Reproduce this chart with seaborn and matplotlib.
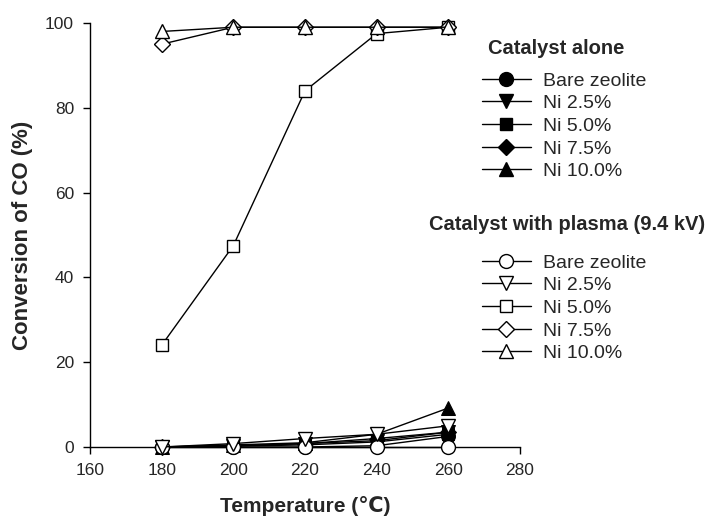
import matplotlib
matplotlib.use("Agg")
import matplotlib.pyplot as plt
import seaborn as sns
import pandas as pd
from matplotlib.lines import Line2D

sns.set_theme(style="ticks")
plt.rcParams['font.family'] = ['Liberation Sans', 'DejaVu Sans']

temps = [180, 200, 220, 240, 260]
labels = ["Bare zeolite", "Ni 2.5%", "Ni 5.0%", "Ni 7.5%", "Ni 10.0%"]
markers = ["o", "v", "s", "D", "^"]

alone_bare = [0, 0, 0, 0.3, 2.5]
alone_ni25 = [0, 0.3, 0.8, 1.5, 3.5]
alone_ni50 = [0, 0.2, 0.5, 1.2, 3.0]
alone_ni75 = [0, 0.3, 0.8, 2.0, 3.5]
alone_ni100 = [0, 0.5, 1.0, 3.0, 9.2]

plasma_bare = [0, 0, 0, 0, 0]
plasma_ni25 = [0, 0.8, 2.0, 3.0, 5.0]
plasma_ni50 = [24, 47.5, 84, 97.5, 99]
plasma_ni75 = [95, 99, 99, 99, 99]
plasma_ni100 = [98, 99, 99, 99, 99]

alone = [alone_bare, alone_ni25, alone_ni50, alone_ni75, alone_ni100]
plasma = [plasma_bare, plasma_ni25, plasma_ni50, plasma_ni75, plasma_ni100]

fig = plt.figure(figsize=(7.11, 5.22), dpi=100)
ax = fig.add_axes([90/711, 1 - 447/522, (520-90)/711, (447-23)/522])

msize = {"o": 10, "v": 10, "s": 9, "D": 8, "^": 10}

h_alone, h_plasma = [], []
for vals, lab, m in zip(alone, labels, markers):
    df = pd.DataFrame({"T": temps, "C": vals})
    sns.lineplot(data=df, x="T", y="C", ax=ax, color="black", marker=m,
                 markersize=msize[m], markerfacecolor="black", markeredgecolor="black",
                 linewidth=1, clip_on=False, zorder=3)
    h_alone.append(Line2D([], [], color="black", marker=m, markersize=msize[m],
                          markerfacecolor="black", markeredgecolor="black", linewidth=1))
for vals, lab, m in zip(plasma, labels, markers):
    df = pd.DataFrame({"T": temps, "C": vals})
    sns.lineplot(data=df, x="T", y="C", ax=ax, color="black", marker=m,
                 markersize=msize[m], markerfacecolor="white", markeredgecolor="black",
                 markeredgewidth=1, linewidth=1, clip_on=False, zorder=4)
    h_plasma.append(Line2D([], [], color="black", marker=m, markersize=msize[m],
                           markerfacecolor="white", markeredgecolor="black",
                           markeredgewidth=1, linewidth=1))

ax.set_xlim(160, 280)
ax.set_ylim(0, 100)
ax.set_xticks([160, 180, 200, 220, 240, 260, 280])
ax.set_yticks([0, 20, 40, 60, 80, 100])
ax.tick_params(axis="both", labelsize=12.5, length=5, width=1, color="black",
               direction="out", pad=6.5)
for s in ["top", "right"]:
    ax.spines[s].set_visible(False)
for s in ["left", "bottom"]:
    ax.spines[s].set_color("black")
    ax.spines[s].set_linewidth(1)
ax.set_xlabel("Temperature (℃)", fontsize=15, fontweight="bold", labelpad=13)
ax.set_ylabel("Conversion of CO (%)", fontsize=16, fontweight="bold", labelpad=9)
ax.grid(False)

fig.text(488/711, 1 - 48/522, "Catalyst alone", fontsize=14.5, fontweight="bold",
         ha="left", va="center")
fig.text(429/711, 1 - 225/522, "Catalyst with plasma (9.4 kV)", fontsize=14.5,
         fontweight="bold", ha="left", va="center")

common = dict(loc="upper left", frameon=False, fontsize=14, handlelength=2.5,
              labelspacing=0.26, handletextpad=0.65, borderaxespad=0, borderpad=0)
leg1 = fig.legend(handles=h_alone, labels=labels,
                  bbox_to_anchor=(482/711, 1 - 72/522), **common)
leg2 = fig.legend(handles=h_plasma, labels=labels,
                  bbox_to_anchor=(482/711, 1 - 254/522), **common)

fig.savefig("out.png", dpi=100)
